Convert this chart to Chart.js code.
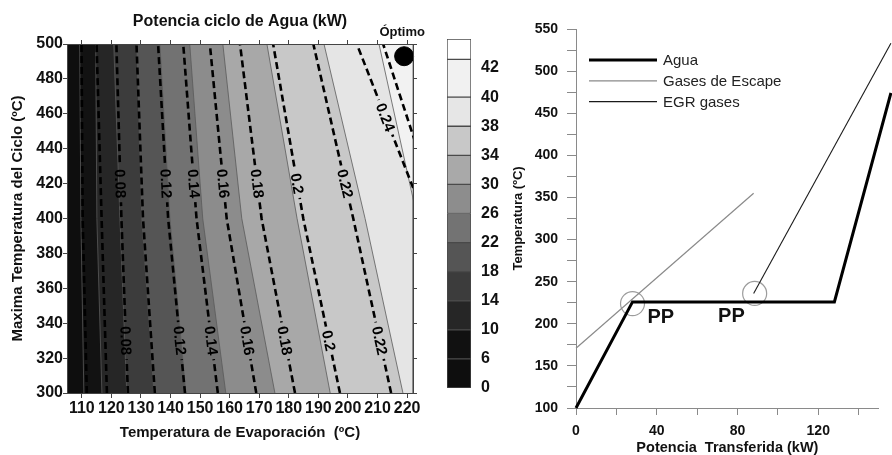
<!DOCTYPE html>
<html>
<head>
<meta charset="utf-8">
<script src="https://cdn.jsdelivr.net/npm/chart.js@4.4.1/dist/chart.umd.min.js"></script>
<style>
  body { margin: 0; background: #fff; }
  #wrap { position: relative; width: 892px; height: 455px; overflow: hidden; }
  canvas { position: absolute; top: 0; }
</style>
</head>
<body>
<div id="wrap">
  <canvas id="mapChart" width="440" height="455" style="left:0"></canvas>
  <canvas id="barChart" width="60" height="455" style="left:440px"></canvas>
  <canvas id="pinchChart" width="400" height="455" style="left:492px"></canvas>
</div>
<script>
var FONT = "'Liberation Sans', Arial, sans-serif";
Chart.defaults.font.family = FONT;
Chart.defaults.color = '#111';
Chart.defaults.animation = false;
Chart.defaults.plugins.legend.display = false;
Chart.defaults.plugins.tooltip.enabled = false;

// ---------- left panel: contour map ----------
var evapMin = 105, evapMax = 222;
var tmaxMin = 300, tmaxMax = 500;
var tmaxRows = [300, 400, 500];   // rows where the contour positions were read

// evaporation temperature of each filled band's left edge, at Tmax = 300, 400, 500
var bandEdges = [
  [105, 105, 105],
  [110.7, 109.7, 109.3],
  [116.8, 115.1, 114.7],
  [125.2, 122.9, 120.8],
  [134.4, 130.3, 128.6],
  [145.2, 139.8, 136.4],
  [158.7, 150.9, 146.5],
  [175.3, 164.1, 157.7],
  [194.0, 182.8, 172.6],
  [218.6, 205.8, 191.9],
  [236.0, 223.5, 210.5]
];
var bandColors = ['#0e0e0e', '#121212', '#262626', '#3c3c3c', '#555555', '#727272',
                  '#8c8c8c', '#a8a8a8', '#c8c8c8', '#e5e5e5', '#f2f2f2'];

// dashed contours (efficiency), positions at Tmax = 300, 400, 500
var effValues = ['0.04', '0.06', '0.08', '0.10', '0.12', '0.14', '0.16', '0.18', '0.2', '0.22', '0.24', '0.26'];
var effLines = [
  [111.7, 110.3, 109.9],
  [118.5, 116.7, 115.0],
  [125.6, 123.4, 121.7],
  [134.7, 130.7, 128.5],
  [144.9, 139.2, 135.8],
  [156.0, 148.8, 144.3],
  [169.0, 159.0, 153.3],
  [182.1, 170.8, 163.5],
  [197.3, 184.9, 174.7],
  [214.6, 201.8, 188.3],
  [249.1, 226.1, 203.0],
  [250.5, 231.2, 211.9]
];
// Tmax where each dashed line carries its label
var effLabelRows = [[], [], [420, 330], [], [420, 330], [420, 330], [420, 330],
                    [420, 330], [420, 330], [420, 330], [458], []];

var optEvap = [219], optTmax = [493];

// ---------- colour bar ----------
var cbTicks = ['0', '6', '10', '14', '18', '22', '26', '30', '34', '38', '40', '42'];
var cbSpan = [1, 1, 1, 1, 1, 1, 1, 1, 1, 1, 1.3, 0.7];
var cbColors = ['#0e0e0e', '#111111', '#262626', '#3c3c3c', '#555555', '#737373',
                '#8d8d8d', '#a9a9a9', '#c8c8c8', '#e6e6e6', '#f1f1f1', '#ffffff'];

// ---------- right panel: T-Q diagram ----------
var aguaQ = [0, 28, 128, 156],  aguaT = [100, 226, 226, 474];
var escapeQ = [0, 88],          escapeT = [171, 355];
var egrQ = [88, 156],           egrT = [236, 533];
var pinchQ = [28, 88.5],        pinchT = [224, 236];
var ppQ = [42, 77],             ppT = [207, 209];

function pairs(xs, ys) {
  return xs.map(function (x, i) { return {x: x, y: ys[i]}; });
}

// where a dashed line crosses a given Tmax, with its direction
function spotOnLine(chart, index, value) {
  var pts = chart.getDatasetMeta(index).data;
  var py = chart.scales.y.getPixelForValue(value);
  for (var j = 0; j < pts.length - 1; j++) {
    var a = pts[j], b = pts[j + 1];
    if ((py - a.y) * (py - b.y) <= 0) {
      var t = (py - a.y) / (b.y - a.y);
      return {x: a.x + t * (b.x - a.x), y: py, angle: Math.atan2(a.y - b.y, a.x - b.x)};
    }
  }
  return null;
}

var contourLabels = {
  id: 'contourLabels',
  beforeDatasetDraw: function (chart, args) {
    var ds = chart.data.datasets[args.index];
    if (!ds.labelAt || !ds.labelAt.length) return;
    var ctx = chart.ctx;
    ctx.save();
    ctx.font = 'bold 15px ' + FONT;
    ctx.beginPath();
    ctx.rect(0, 0, chart.width, chart.height);
    ds.labelAt.forEach(function (t) {
      var p = spotOnLine(chart, args.index, t);
      if (!p) return;
      var w = ctx.measureText(ds.effLabel).width + 8, h = 16;
      var c = Math.cos(p.angle), s = Math.sin(p.angle);
      var corners = [[-w / 2, -h / 2], [w / 2, -h / 2], [w / 2, h / 2], [-w / 2, h / 2]];
      corners.forEach(function (q, n) {
        var X = p.x + q[0] * c - q[1] * s, Y = p.y + q[0] * s + q[1] * c;
        if (n === 0) ctx.moveTo(X, Y); else ctx.lineTo(X, Y);
      });
      ctx.closePath();
    });
    ctx.clip('evenodd');
  },
  afterDatasetDraw: function (chart, args) {
    var ds = chart.data.datasets[args.index];
    if (!ds.labelAt || !ds.labelAt.length) return;
    var ctx = chart.ctx;
    ctx.restore();
    ds.labelAt.forEach(function (t) {
      var p = spotOnLine(chart, args.index, t);
      if (!p) return;
      ctx.save();
      ctx.translate(p.x, p.y);
      ctx.rotate(p.angle);
      ctx.font = 'bold 15px ' + FONT;
      ctx.fillStyle = '#000';
      ctx.textAlign = 'center';
      ctx.textBaseline = 'middle';
      ctx.fillText(ds.effLabel, 0, 1);
      ctx.restore();
    });
  },
  afterDraw: function (chart) {
    var meta = chart.getDatasetMeta(chart.data.datasets.length - 1);
    var pt = meta.data[0];
    var ctx = chart.ctx;
    ctx.save();
    ctx.font = 'bold 13px ' + FONT;
    ctx.fillStyle = '#111';
    ctx.textAlign = 'center';
    ctx.textBaseline = 'middle';
    ctx.fillText('Óptimo', pt.x - 2, pt.y - 24);
    ctx.restore();
  }
};

// filled bands: region right of each band edge
var mapSets = [];
for (var k = 0; k < bandEdges.length; k++) {
  var pts = [{x: evapMax, y: tmaxMin}, {x: evapMax, y: tmaxMax}];
  for (var r = tmaxRows.length - 1; r >= 0; r--) {
    pts.push({x: bandEdges[k][r], y: tmaxRows[r]});
  }
  mapSets.push({
    data: pts,
    fill: 'shape',
    backgroundColor: bandColors[k],
    borderColor: '#5a5a5a',
    borderWidth: k === 0 ? 0 : 0.8,
    pointRadius: 0,
    order: 100 - k
  });
}
for (var d = 0; d < effLines.length; d++) {
  mapSets.push({
    data: pairs(effLines[d], tmaxRows),
    borderColor: '#000',
    borderWidth: 2.6,
    borderDash: [7, 4],
    pointRadius: 0,
    fill: false,
    order: 10,
    effLabel: effValues[d],
    labelAt: effLabelRows[d]
  });
}
mapSets.push({
  data: pairs(optEvap, optTmax),
  showLine: false,
  pointRadius: 9.5,
  pointBackgroundColor: '#000',
  pointBorderColor: '#000',
  clip: false,
  order: 0
});

var frameTicks = {drawOnChartArea: false, tickLength: 4, color: '#444'};

new Chart(document.getElementById('mapChart'), {
  type: 'line',
  data: {datasets: mapSets},
  options: {
    responsive: false,
    layout: {padding: 0},
    plugins: {
      title: {
        display: true,
        text: 'Potencia ciclo de Agua (kW)',
        fullSize: false,
        color: '#111',
        font: {size: 16, weight: 'bold'},
        padding: {top: 12, bottom: 4}
      }
    },
    scales: {
      x: {
        type: 'linear', position: 'bottom', min: evapMin, max: evapMax,
        ticks: {stepSize: 10, includeBounds: false, autoSkip: false, maxRotation: 0, minRotation: 0,
                padding: 1, font: {size: 16, weight: 'bold'}},
        grid: {drawOnChartArea: false, tickLength: 5, color: '#444'},
        border: {color: '#444', z: 1},
        title: {display: true, text: 'Temperatura de Evaporación  (ºC)',
                font: {size: 15, weight: 'bold'}, padding: {top: 0, bottom: 13}},
        afterFit: function (s) { s.height = 62; }
      },
      xTop: {
        type: 'linear', position: 'top', min: evapMin, max: evapMax,
        ticks: {stepSize: 10, includeBounds: false, display: false},
        grid: frameTicks,
        border: {color: '#444', z: 1},
        afterFit: function (s) { s.height = 8.8; }
      },
      y: {
        type: 'linear', position: 'left', min: tmaxMin, max: tmaxMax,
        ticks: {stepSize: 20, padding: 0, font: {size: 16, weight: 'bold'}},
        grid: frameTicks,
        border: {color: '#444', z: 1},
        title: {display: true, text: 'Maxima Temperatura del Ciclo (ºC)',
                font: {size: 15, weight: 'bold'}, padding: {top: 9, bottom: 0}},
        afterFit: function (s) { s.width = 67; }
      },
      yRight: {
        type: 'linear', position: 'right', min: tmaxMin, max: tmaxMax,
        ticks: {stepSize: 20, display: false},
        grid: frameTicks,
        border: {color: '#444', z: 1},
        afterFit: function (s) { s.width = 27; }
      }
    }
  },
  plugins: [contourLabels]
});

// colour bar as one stacked bar
var cbSets = cbSpan.map(function (v, i) {
  return {
    data: [v],
    backgroundColor: cbColors[i],
    borderColor: '#4a4a4a',
    borderWidth: 1,
    borderSkipped: false,
    barPercentage: 1,
    categoryPercentage: 1,
    stack: 'bar'
  };
});
new Chart(document.getElementById('barChart'), {
  type: 'bar',
  data: {labels: [''], datasets: cbSets},
  options: {
    responsive: false,
    layout: {padding: {left: 7, top: 39, bottom: 67, right: 0}},
    scales: {
      x: {stacked: true, display: false},
      y: {
        stacked: true, position: 'right', min: 0, max: 12,
        grid: {display: false}, border: {display: false},
        ticks: {stepSize: 1, padding: 2, font: {size: 16, weight: 'bold'},
                callback: function (v) { return cbTicks[v] !== undefined ? cbTicks[v] : ''; }},
        afterFit: function (s) { s.width = 29; }
      }
    }
  }
});

// right panel legend and PP notes
var pinchNotes = {
  id: 'pinchNotes',
  afterDraw: function (chart) {
    var ctx = chart.ctx, a = chart.chartArea;
    var xs = chart.scales.x, ys = chart.scales.y;
    ctx.save();
    ctx.font = '15px ' + FONT;
    ctx.textBaseline = 'middle';
    for (var i = 0; i < 3; i++) {
      var ds = chart.data.datasets[i];
      var ly = a.top + 31 + i * 20.8;
      ctx.strokeStyle = ds.borderColor;
      ctx.lineWidth = ds.borderWidth;
      ctx.beginPath();
      ctx.moveTo(a.left + 13, ly);
      ctx.lineTo(a.left + 81, ly);
      ctx.stroke();
      ctx.fillStyle = '#222';
      ctx.fillText(ds.label, a.left + 87, ly + 1);
    }
    ctx.font = 'bold 20px ' + FONT;
    ctx.fillStyle = '#111';
    ctx.textAlign = 'center';
    for (var p = 0; p < ppQ.length; p++) {
      ctx.fillText('PP', xs.getPixelForValue(ppQ[p]), ys.getPixelForValue(ppT[p]));
    }
    ctx.restore();
  }
};

new Chart(document.getElementById('pinchChart'), {
  type: 'line',
  data: {
    datasets: [
      {label: 'Agua', data: pairs(aguaQ, aguaT), borderColor: '#000', borderWidth: 3,
       pointRadius: 0, clip: false},
      {label: 'Gases de Escape', data: pairs(escapeQ, escapeT), borderColor: '#8a8a8a',
       borderWidth: 1.2, pointRadius: 0, clip: false},
      {label: 'EGR gases', data: pairs(egrQ, egrT), borderColor: '#1a1a1a', borderWidth: 1.1,
       pointRadius: 0, clip: false},
      {label: '', data: pairs(pinchQ, pinchT), showLine: false, pointRadius: 12,
       pointBorderColor: '#9c9c9c', pointBackgroundColor: 'rgba(0,0,0,0)', pointBorderWidth: 1.2,
       clip: false}
    ]
  },
  options: {
    responsive: false,
    layout: {padding: {top: 29, right: 12, left: 0, bottom: 0}},
    scales: {
      x: {
        type: 'linear', min: 0, max: 150,
        ticks: {stepSize: 20, includeBounds: false, autoSkip: false, maxRotation: 0, padding: 8,
                font: {size: 14, weight: 'bold'},
                callback: function (v) { return v % 40 === 0 ? v : ''; }},
        grid: {drawOnChartArea: false, tickLength: 7, color: '#8a8a8a'},
        border: {color: '#8a8a8a'},
        title: {display: true, text: 'Potencia  Transferida (kW)', font: {size: 14.5, weight: 'bold'},
                padding: {top: 0, bottom: -2}},
        afterFit: function (s) { s.height = 47; }
      },
      y: {
        type: 'linear', min: 100, max: 550,
        ticks: {stepSize: 25, padding: 9, font: {size: 14, weight: 'bold'},
                callback: function (v) { return v % 50 === 0 ? v : ''; }},
        grid: {drawOnChartArea: false, tickLength: 9, color: '#8a8a8a'},
        border: {color: '#8a8a8a'},
        title: {display: true, text: 'Temperatura (ºC)', font: {size: 13, weight: 'bold'},
                padding: {top: 19, bottom: 0}},
        afterFit: function (s) { s.width = 84; }
      }
    }
  },
  plugins: [pinchNotes]
});
</script>
</body>
</html>
